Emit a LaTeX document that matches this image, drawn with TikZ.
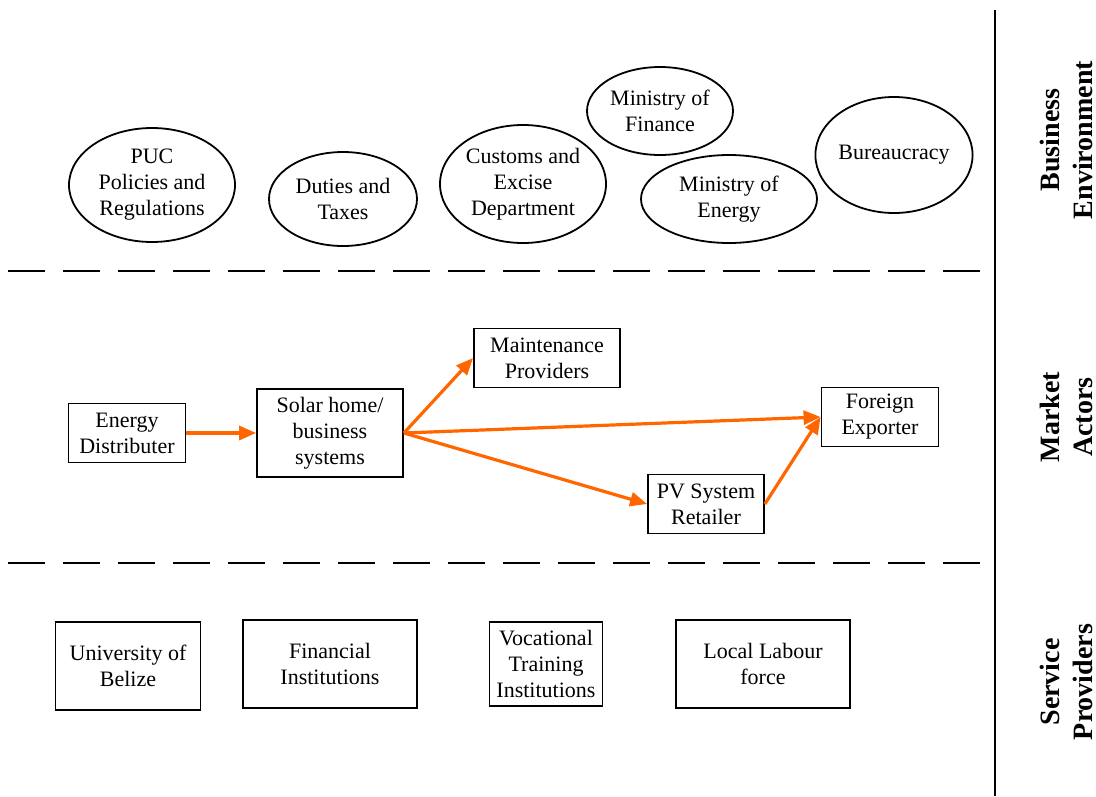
\documentclass[tikz,border=0pt]{standalone}
\usepackage{fontspec}
\setmainfont{Liberation Serif}
\usetikzlibrary{shapes.geometric,arrows.meta}
\definecolor{flow}{RGB}{255,102,0}
\begin{document}
\begin{tikzpicture}[x=1pt,y=-1pt,
  every node/.style={font=\fontsize{22}{26}\selectfont, align=center},
  oval/.style={draw, ellipse, line width=1.8pt, inner sep=0pt},
  actor/.style={draw, rectangle, line width=1.8pt, inner sep=1pt},
  tier/.style={rotate=90, font=\fontsize{28}{33}\selectfont\bfseries},
  divider/.style={line width=2.4pt, dash pattern=on 37pt off 18pt},
  flowarrow/.style={draw=flow, line width=3.2pt, -{Triangle[length=17pt,width=14pt]}}
]
\useasboundingbox (0,0) rectangle (1096,796);

% tier separators
\draw[divider] (8,271) -- (995,271);
\draw[divider] (8,563) -- (995,563);
\draw[line width=2.4pt] (995,10) -- (995,796);

% tier labels
\node[tier] (lbe) at (1066,140) {Business\\Environment};
\node[tier] (lma) at (1066,417) {Market\\Actors};
\node[tier] (lsp) at (1066,682) {Service\\Providers};

% business environment
\node[oval, minimum width=166pt, minimum height=114pt] (puc) at (152,185) {PUC\\Policies and\\Regulations};
\node[oval, minimum width=148pt, minimum height=94pt] (duty) at (343,199) {Duties and\\Taxes};
\node[oval, minimum width=166pt, minimum height=118pt] (cust) at (523,184) {Customs and\\Excise\\Department};
\node[oval, minimum width=146pt, minimum height=88pt] (mof) at (660,111) {Ministry of\\Finance};
\node[oval, minimum width=176pt, minimum height=88pt] (moe) at (729,199) {Ministry of\\Energy};
\node[oval, minimum width=145pt, minimum height=116pt] (bur) at (894,155) {Bureaucracy};

% market actors
\node[actor, minimum width=117pt, minimum height=59pt] (dist) at (127,433) {Energy\\Distributer};
\node[actor, minimum width=146pt, minimum height=88pt] (solar) at (330,433) {Solar home/\\business\\systems};
\node[actor, minimum width=146pt, minimum height=59pt] (maint) at (547,358) {Maintenance\\Providers};
\node[actor, minimum width=117pt, minimum height=59pt] (export) at (880,417) {Foreign\\Exporter};
\node[actor, minimum width=116pt, minimum height=59pt] (pv) at (706,504) {PV System\\Retailer};

\draw[flowarrow] (dist.east) -- (solar.west);
\draw[flowarrow] (solar.east) -- (maint.west);
\draw[flowarrow] (solar.east) -- (export.west);
\draw[flowarrow] (solar.east) -- (pv.west);
\draw[flowarrow] (pv.east) -- (export.west);

% service providers
\node[actor, minimum width=145pt, minimum height=88pt] (ub) at (128,666) {University of\\Belize};
\node[actor, minimum width=174pt, minimum height=88pt] (fin) at (330,664) {Financial\\Institutions};
\node[actor, minimum width=113pt, minimum height=84pt] (voc) at (546,664) {Vocational\\Training\\Institutions};
\node[actor, minimum width=174pt, minimum height=88pt] (lab) at (763,664) {Local Labour\\force};
\end{tikzpicture}
\end{document}
